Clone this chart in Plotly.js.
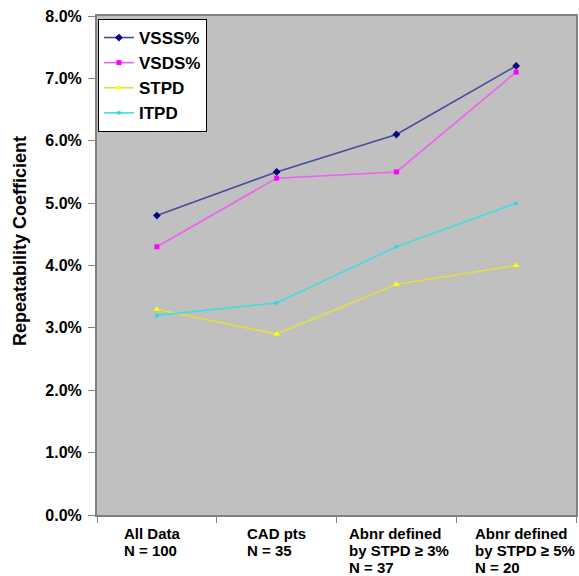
<!DOCTYPE html>
<html>
<head>
<meta charset="utf-8">
<script src="https://cdn.plot.ly/plotly-3.0.1.min.js"></script>
<style>html,body{margin:0;padding:0;background:#fff;}#chart{width:579px;height:576px;}</style>
</head>
<body>
<div id="chart"></div>
<script>
const categories = ["All Data", "CAD pts", "Abnr defined by STPD ≥ 3%", "Abnr defined by STPD ≥ 5%"];
const categoryLabelLines = [
  ["All Data", "N = 100"],
  ["CAD pts", "N = 35"],
  ["Abnr defined", "by STPD ≥ 3%", "N = 37"],
  ["Abnr defined", "by STPD ≥ 5%", "N = 20"]
];
const vsss = [0.048, 0.055, 0.061, 0.072];
const vsds = [0.043, 0.054, 0.055, 0.071];
const stpd = [0.033, 0.029, 0.037, 0.040];
const itpd = [0.032, 0.034, 0.043, 0.050];
const yTicks = [0, 0.01, 0.02, 0.03, 0.04, 0.05, 0.06, 0.07, 0.08];
const yTitle = "Repeatability Coefficient";

const font = "Arial, 'Liberation Sans', sans-serif";
function tr(name, y, lineColor, markerColor, symbol, size) {
  return {
    type: "scatter", mode: "lines+markers", name: name, x: categories, y: y,
    line: {color: lineColor, width: 1.6},
    marker: {color: markerColor, symbol: symbol, size: size, line: {width: 0}}
  };
}
const data = [
  tr("VSSS%", vsss, "#4a4a9c", "#000080", "diamond", 6),
  tr("VSDS%", vsds, "#f060f0", "#ff00ff", "square", 5),
  tr("STPD", stpd, "#e0e040", "#ffff00", "triangle-up", 6),
  tr("ITPD", itpd, "#40dede", "#30d8d8", "circle", 4)
];
const labelShift = [-35, -32, -49, -43];
const annotations = [];
categoryLabelLines.forEach((lines, i) => {
  lines.forEach((t, j) => {
    annotations.push({
      x: categories[i], xref: "x", y: 0, yref: "paper", yshift: -8 - 17 * j,
      xanchor: "left", yanchor: "top", align: "left", xshift: labelShift[i],
      text: "<b>" + t + "</b>", showarrow: false,
      font: {family: font, size: 15, color: "#000"}
    });
  });
});
annotations.push({
  x: -0.161, xref: "paper", y: 0.549, yref: "paper",
  xanchor: "center", yanchor: "middle", textangle: -90,
  text: "<b>" + yTitle + "</b>", showarrow: false,
  font: {family: font, size: 18, color: "#000"}
});
const layout = {
  width: 579, height: 576,
  margin: {l: 97, r: 3, t: 16, b: 61, pad: 0},
  paper_bgcolor: "#ffffff", plot_bgcolor: "#c0c0c0",
  showlegend: true,
  legend: {
    x: 0.002, y: 0.994, xanchor: "left", yanchor: "top",
    bgcolor: "#ffffff", bordercolor: "#000000", borderwidth: 1,
    font: {family: font, size: 17, color: "#000", weight: "bold"},
    itemwidth: 30
  },
  xaxis: {
    type: "category", showgrid: false, zeroline: false,
    showticklabels: false, ticks: "outside", tickson: "boundaries",
    ticklen: 6, tickcolor: "#808080", tickwidth: 1,
    showline: true, linecolor: "#808080", linewidth: 2, mirror: true,
    range: [-0.5, 3.5], fixedrange: true
  },
  yaxis: {
    range: [0, 0.08], tickvals: yTicks, tickformat: ".1%",
    showgrid: false, zeroline: false,
    ticks: "outside", ticklen: 7, tickcolor: "#808080", tickwidth: 1,
    ticklabelstandoff: 3,
    showline: true, linecolor: "#808080", linewidth: 2, mirror: true,
    tickfont: {family: font, size: 16, color: "#000", weight: "bold"},
    fixedrange: true
  },
  annotations: annotations
};
Plotly.newPlot("chart", data, layout, {displayModeBar: false, staticPlot: true});
</script>
</body>
</html>
